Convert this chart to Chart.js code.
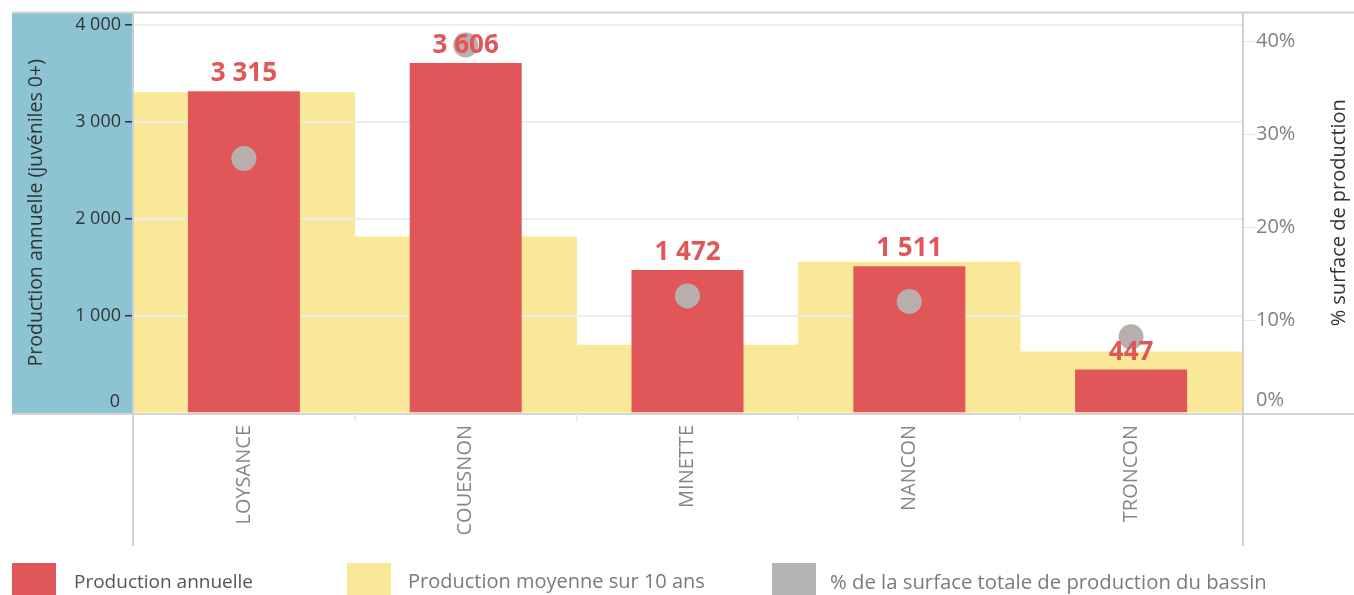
<!DOCTYPE html>
<html>
<head>
<meta charset="utf-8">
<script src="https://cdn.jsdelivr.net/npm/chart.js@4/dist/chart.umd.min.js"></script>
<style>
  html, body { margin: 0; padding: 0; background: #fff; }
  #wrap { position: relative; width: 1354px; height: 595px; overflow: hidden; }
  #c { position: absolute; left: 0; top: 0; }
  .lg { position: absolute; top: 563px; height: 32px; font-family: "Open Sans", sans-serif; font-size: 19px; line-height: 36px; white-space: nowrap; }
  .sw { position: absolute; top: 0; width: 44px; height: 32px; }
</style>
</head>
<body>
<div id="wrap">
  <canvas id="c" width="1354" height="595"></canvas>
  <div id="legend"></div>
</div>
<script>
// ---- data ----
const categories = ["LOYSANCE", "COUESNON", "MINETTE", "NANCON", "TRONCON"];
const productionAnnuelle = [3315, 3606, 1472, 1511, 447];
const productionMoyenne10ans = [3300, 1814, 700, 1554, 631];
const pctSurface = [27.4, 39.6, 12.6, 12.0, 8.2];
const leftTicks = [0, 1000, 2000, 3000, 4000];
const rightTicks = [0, 10, 20, 30, 40];
const seriesLabels = ["Production annuelle", "Production moyenne sur 10 ans", "% de la surface totale de production du bassin"];
const leftTitle = "Production annuelle (juvéniles 0+)";
const rightTitle = "% surface de production";

const RED = "#e15759", YELLOW = "#f9e897", GREY = "#b8afad", BLUE = "#8dc4d3";
const FONT = '"Open Sans", sans-serif';

function fmt(v) { return String(v).replace(/\B(?=(\d{3})+(?!\d))/g, " "); }
function pct(v) { return v + "%"; }

const bgPlugin = {
  id: "bg",
  beforeDraw(chart) {
    const ctx = chart.ctx, a = chart.chartArea;
    ctx.save();
    ctx.fillStyle = BLUE;
    ctx.fillRect(12, a.top, a.left - 12, a.bottom - a.top);
    ctx.restore();
  },
  beforeDatasetDraw(chart, args) {
    if (args.index !== 0) return;
    // gridlines over the yellow bars, under the red bars
    const ctx = chart.ctx, a = chart.chartArea, y = chart.scales.y;
    ctx.save();
    ctx.strokeStyle = "#ececec";
    ctx.lineWidth = 2;
    leftTicks.forEach(t => {
      if (t === 0) return;
      const py = Math.round(y.getPixelForValue(t));
      ctx.beginPath(); ctx.moveTo(a.left, py); ctx.lineTo(a.right, py); ctx.stroke();
    });
    ctx.restore();
  },
  afterDatasetsDraw(chart) {
    const ctx = chart.ctx, meta = chart.getDatasetMeta(0);
    ctx.save();
    ctx.fillStyle = RED;
    ctx.font = 'bold 26px ' + FONT;
    ctx.textAlign = "center";
    ctx.textBaseline = "alphabetic";
    meta.data.forEach((bar, i) => {
      ctx.fillText(fmt(productionAnnuelle[i]), bar.x, bar.y - 10);
    });
    ctx.restore();
  },
  afterDraw(chart) {
    const ctx = chart.ctx, a = chart.chartArea, W = chart.width;
    ctx.save();
    ctx.strokeStyle = "#d4d4d4";
    ctx.lineWidth = 2;
    // top border
    ctx.beginPath(); ctx.moveTo(12, a.top); ctx.lineTo(W, a.top); ctx.stroke();
    // bottom border
    ctx.beginPath(); ctx.moveTo(12, a.bottom + 1); ctx.lineTo(W, a.bottom + 1); ctx.stroke();
    // vertical borders
    ctx.strokeStyle = "#cfcfcf";
    ctx.beginPath(); ctx.moveTo(a.left, a.top); ctx.lineTo(a.left, 546); ctx.stroke();
    ctx.beginPath(); ctx.moveTo(a.right + 1, a.top); ctx.lineTo(a.right + 1, 546); ctx.stroke();
    // category separators
    const x = chart.scales.x;
    ctx.strokeStyle = "#ececec";
    for (let i = 1; i < categories.length; i++) {
      const px = Math.round((x.getPixelForValue(i - 1) + x.getPixelForValue(i)) / 2);
      ctx.beginPath(); ctx.moveTo(px, a.bottom + 1); ctx.lineTo(px, a.bottom + 8); ctx.stroke();
    }
    // zero labels, kept inside the plot height (as in the original)
    ctx.textBaseline = "middle";
    ctx.font = "18px " + FONT;
    ctx.fillStyle = "#333";
    ctx.textAlign = "right";
    ctx.fillText(fmt(leftTicks[0]), a.left - 13, chart.scales.y.getPixelForValue(leftTicks[0]) - 11);
    ctx.font = "20px " + FONT;
    ctx.fillStyle = "#808080";
    ctx.textAlign = "left";
    ctx.fillText(pct(rightTicks[0]), a.right + 14, chart.scales.y1.getPixelForValue(rightTicks[0]) - 13);
    // right axis title (reads bottom to top)
    ctx.translate(1339, (a.top + a.bottom) / 2);
    ctx.rotate(-Math.PI / 2);
    ctx.fillStyle = "#333";
    ctx.font = "20px " + FONT;
    ctx.textAlign = "center";
    ctx.textBaseline = "middle";
    ctx.fillText(rightTitle, 0, 0);
    ctx.restore();
  }
};

function noPad(s) { s.paddingTop = 0; s.paddingBottom = 0; }

const ctx = document.getElementById("c").getContext("2d");
const chart = new Chart(ctx, {
  type: "bar",
  data: {
    labels: categories,
    datasets: [
      {
        label: seriesLabels[0],
        data: productionAnnuelle,
        backgroundColor: RED,
        grouped: false,
        barPercentage: 0.505,
        categoryPercentage: 1,
        yAxisID: "y",
        order: 1
      },
      {
        label: seriesLabels[1],
        data: productionMoyenne10ans,
        backgroundColor: YELLOW,
        grouped: false,
        barPercentage: 1,
        categoryPercentage: 1,
        yAxisID: "y",
        order: 2
      },
      {
        type: "line",
        label: seriesLabels[2],
        data: pctSurface,
        showLine: false,
        pointRadius: 12.5,
        pointHoverRadius: 12.5,
        pointBackgroundColor: GREY,
        pointBorderWidth: 0,
        borderColor: GREY,
        yAxisID: "y1",
        order: 0
      }
    ]
  },
  options: {
    responsive: false,
    animation: false,
    events: [],
    layout: { padding: { left: 12, top: 12, right: 0, bottom: 50 } },
    plugins: { legend: { display: false }, tooltip: { enabled: false } },
    scales: {
      x: {
        offset: true,
        grid: { display: false },
        border: { display: false },
        ticks: {
          minRotation: 90, maxRotation: 90, padding: 4,
          color: "#858585",
          font: { family: FONT, size: 20 }
        },
        afterFit(s) { s.height = 132; s.paddingLeft = 0; s.paddingRight = 0; }
      },
      y: {
        position: "left",
        min: 0, max: 4125,
        afterBuildTicks(s) { s.ticks = leftTicks.map(v => ({ value: v })); },
        grid: {
          drawOnChartArea: false, tickLength: 8, lineWidth: 1.5,
          tickColor: c => (c.tick && c.tick.value === 0) ? "rgba(0,0,0,0)" : "#333"
        },
        border: { display: false },
        ticks: {
          padding: 4, color: "#333",
          font: { family: FONT, size: 18 },
          callback: v => v === 0 ? "" : fmt(v)
        },
        title: {
          display: true, text: leftTitle,
          color: "#333", font: { family: FONT, size: 19.5 },
          padding: { top: 13, bottom: 0 }
        },
        afterFit(s) { s.width = 121; noPad(s); }
      },
      y1: {
        position: "right",
        min: 0, max: 43.1,
        afterBuildTicks(s) { s.ticks = rightTicks.map(v => ({ value: v })); },
        grid: {
          drawOnChartArea: false, tickLength: 13,
          tickColor: c => (c.tick && c.tick.value === 0) ? "rgba(0,0,0,0)" : "#e6e6e6"
        },
        border: { display: false },
        ticks: {
          padding: 1, color: "#808080",
          font: { family: FONT, size: 20 },
          callback: v => v === 0 ? "" : pct(v)
        },
        afterFit(s) { s.width = 112; noPad(s); }
      }
    }
  },
  plugins: [bgPlugin]
});

// legend (HTML, built from the datasets)
const legendPos = [[12, 74], [347, 408], [772, 830]];
const legendColors = [RED, YELLOW, "#b3b3b3"];
const legendTextColors = ["#555", "#7a7a7a", "#7a7a7a"];
const legendSizes = [19, 20, 20.3];
const lg = document.getElementById("legend");
seriesLabels.forEach((t, i) => {
  const sw = document.createElement("div");
  sw.className = "lg sw";
  sw.style.left = legendPos[i][0] + "px";
  sw.style.top = "563px";
  sw.style.background = legendColors[i];
  lg.appendChild(sw);
  const tx = document.createElement("div");
  tx.className = "lg";
  tx.style.left = legendPos[i][1] + "px";
  tx.style.color = legendTextColors[i];
  tx.style.fontSize = legendSizes[i] + "px";
  tx.textContent = t;
  lg.appendChild(tx);
});
</script>
</body>
</html>
